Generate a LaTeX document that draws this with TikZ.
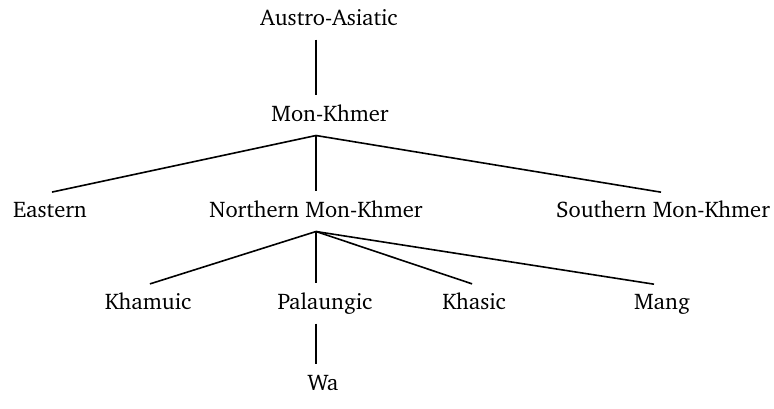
\documentclass[tikz,border=0pt]{standalone}
\usepackage[T1]{fontenc}
\usepackage{charter}
\usepackage{tikz}
\usetikzlibrary{positioning}

\begin{document}
\begin{tikzpicture}[
  x=0.5pt,y=-0.5pt,
  lang/.style={inner xsep=0pt,inner ysep=4.5pt,text height=7.9pt,text depth=2.2pt,font=\fontsize{11.3}{13.5}\selectfont},
  branch/.style={line width=0.8pt,shorten >=1pt}
]
\useasboundingbox (0,0) rectangle (774,408);
\node[lang] (austro) at (329,20) {Austro-Asiatic};
\node[lang] (monkhmer) at (330,116) {Mon-Khmer};
\node[lang] (eastern) at (50,212) {Eastern};
\node[lang] (northern) at (316,212) {Northern Mon-Khmer};
\node[lang] (southern) at (663,212) {Southern Mon-Khmer};
\node[lang] (khamuic) at (148,304) {Khamuic};
\node[lang] (palaungic) at (325,304) {Palaungic};
\node[lang] (khasic) at (474,304) {Khasic};
\node[lang] (mang) at (662,304) {Mang};
\node[lang] (wa) at (323,385) {Wa};
\draw[branch] (austro.south -| northern) -- (monkhmer.north -| northern);
\draw[branch] (monkhmer.south -| northern) -- (eastern.north);
\draw[branch] (monkhmer.south -| northern) -- (northern.north);
\draw[branch] (monkhmer.south -| northern) -- (southern.north);
\draw[branch] (northern.south) -- (khamuic.north);
\draw[branch] (northern.south) -- (palaungic.north -| northern);
\draw[branch] (northern.south) -- (khasic.north);
\draw[branch] (northern.south) -- ([xshift=-3pt]mang.north);
\draw[branch] (palaungic.south -| northern) -- (wa.north -| northern);
\end{tikzpicture}
\end{document}
